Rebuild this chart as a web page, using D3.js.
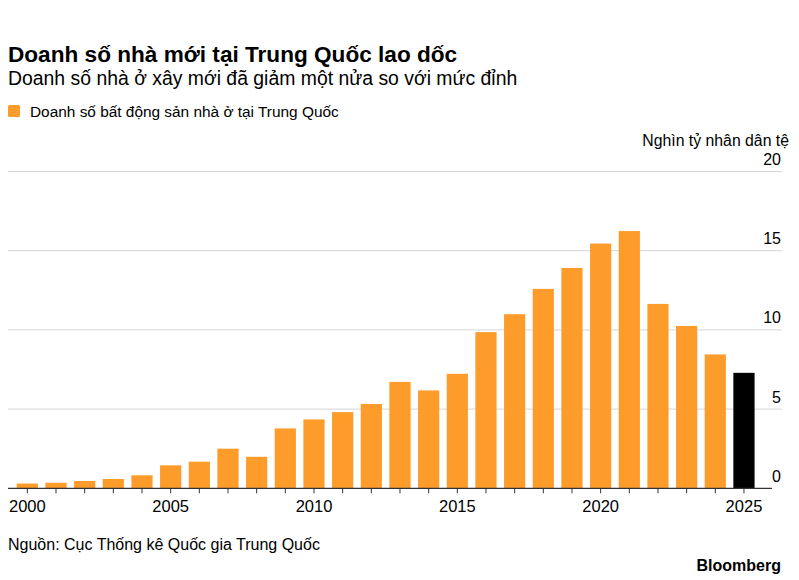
<!DOCTYPE html>
<html>
<head>
<meta charset="utf-8">
<script src="https://cdn.jsdelivr.net/npm/d3@7"></script>
<style>
  body { margin: 0; background: #fff; }
  text { font-family: "Liberation Sans", Arial, sans-serif; fill: #000; }
</style>
</head>
<body>
<div id="chart"></div>
<script>
// data (nghìn tỷ nhân dân tệ)
const years = d3.range(2000, 2026);
const sales = [0.3, 0.35, 0.46, 0.59, 0.82, 1.45, 1.68, 2.5, 1.99, 3.78,
    4.35, 4.81, 5.32, 6.72, 6.18, 7.23, 9.86, 10.99, 12.59, 13.91,
    15.45, 16.24, 11.64, 10.25, 8.45, 7.29];
const yTicks = [0, 5, 10, 15, 20];
const xLabelYears = [2000, 2005, 2010, 2015, 2020, 2025];

const W = 799, H = 580;
const orange = "#fd9c2b", highlight = "#000";

let svg = d3.select("#chart")
    .append("svg")
    .attr("width", W)
    .attr("height", H);

// titles
svg.append("text")
    .attr("x", 8).attr("y", 62)
    .style("font-size", "22.6px")
    .style("font-weight", "bold")
    .text("Doanh số nhà mới tại Trung Quốc lao dốc");

svg.append("text")
    .attr("x", 8).attr("y", 85)
    .style("font-size", "19.4px")
    .text("Doanh số nhà ở xây mới đã giảm một nửa so với mức đỉnh");

// legend
svg.append("rect")
    .attr("x", 8).attr("y", 105)
    .attr("width", 12).attr("height", 12)
    .attr("rx", 1.5)
    .attr("fill", orange);
svg.append("text")
    .attr("x", 30).attr("y", 116.5)
    .style("font-size", "15.4px")
    .text("Doanh số bất động sản nhà ở tại Trung Quốc");

// scales
const x = d3.scaleBand()
    .domain(years)
    .range([13, 758.3])
    .paddingInner(0.26)
    .paddingOuter(0.13);

const y = d3.scaleLinear()
    .domain([0, 20])
    .range([488.3, 171.5]);

// gridlines + right labels
svg.selectAll(".grid")
    .data(yTicks.filter(d => d > 0))
    .enter().append("line")
    .attr("class", "grid")
    .attr("x1", 8).attr("x2", 782)
    .attr("y1", d => y(d)).attr("y2", d => y(d))
    .attr("stroke", "#d6d6d6")
    .attr("stroke-width", 1);

svg.selectAll(".ylab")
    .data(yTicks)
    .enter().append("text")
    .attr("class", "ylab")
    .attr("x", 781)
    .attr("y", d => y(d) - 6.5)
    .attr("text-anchor", "end")
    .style("font-size", "16px")
    .text(d => d);

svg.append("text")
    .attr("x", 789).attr("y", 146)
    .attr("text-anchor", "end")
    .style("font-size", "15.8px")
    .text("Nghìn tỷ nhân dân tệ");

// bars
svg.selectAll(".bar")
    .data(years)
    .enter().append("rect")
    .attr("class", "bar")
    .attr("x", d => x(d))
    .attr("y", (d, i) => y(sales[i]))
    .attr("width", x.bandwidth())
    .attr("height", (d, i) => y(0) - y(sales[i]))
    .attr("fill", d => d === 2025 ? highlight : orange);

// x axis
svg.append("line")
    .attr("x1", 8).attr("x2", 772)
    .attr("y1", y(0)).attr("y2", y(0))
    .attr("stroke", "#333")
    .attr("stroke-width", 1.2);

let xAxis = svg.append("g")
    .attr("transform", "translate(0," + y(0) + ")")
    .call(d3.axisBottom(x)
        .tickSize(5)
        .tickFormat(d => xLabelYears.includes(d) ? d : ""));
xAxis.select(".domain").remove();
xAxis.selectAll("line").attr("stroke", "#333");
xAxis.selectAll("text")
    .attr("dy", "0.95em")
    .style("font-size", "16.5px")
    .style("font-family", "'Liberation Sans', Arial, sans-serif")
    .attr("fill", "#000");

// source + brand
svg.append("text")
    .attr("x", 8).attr("y", 550)
    .style("font-size", "16px")
    .text("Nguồn: Cục Thống kê Quốc gia Trung Quốc");

svg.append("text")
    .attr("x", 781).attr("y", 571)
    .attr("text-anchor", "end")
    .style("font-size", "16px")
    .style("font-weight", "bold")
    .text("Bloomberg");
</script>
</body>
</html>
